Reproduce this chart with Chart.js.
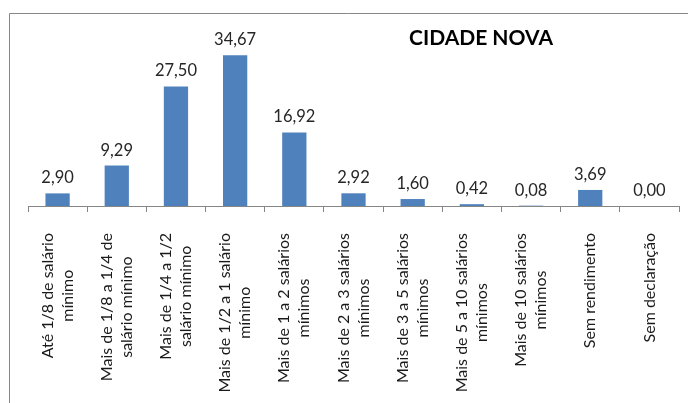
<!DOCTYPE html>
<html>
<head>
<meta charset="utf-8">
<script src="https://cdn.jsdelivr.net/npm/chart.js@4.4.0/dist/chart.umd.min.js"></script>
<style>
  html, body { margin: 0; padding: 0; background: #fff; }
  #wrap { width: 688px; height: 403px; }
</style>
</head>
<body>
<div id="wrap"><canvas id="rendaChart" width="688" height="403"></canvas></div>
<script>
// Data
const chartTitle = 'CIDADE NOVA';
const categories = [
    ['Até 1/8 de salário', 'mínimo'],
    ['Mais de 1/8 a 1/4 de', 'salário mínimo'],
    ['Mais de 1/4 a 1/2', 'salário mínimo'],
    ['Mais de 1/2 a 1 salário', 'mínimo'],
    ['Mais de 1 a 2 salários', 'mínimos'],
    ['Mais de 2 a 3 salários', 'mínimos'],
    ['Mais de 3 a 5 salários', 'mínimos'],
    ['Mais de 5 a 10 salários', 'mínimos'],
    ['Mais de 10 salários', 'mínimos'],
    ['Sem rendimento'],
    ['Sem declaração']
];
const values = [2.90, 9.29, 27.50, 34.67, 16.92, 2.92, 1.60, 0.42, 0.08, 3.69, 0.00];

const fontFamily = 'Lato, "Liberation Sans", sans-serif';

// Draws outer frame, title, value labels and the rotated category labels
const excelLook = {
    id: 'excelLook',
    beforeDraw(chart) {
        const ctx = chart.ctx;
        ctx.save();
        ctx.strokeStyle = '#868686';
        ctx.lineWidth = 1;
        ctx.beginPath();
        ctx.moveTo(9.5, chart.height);
        ctx.lineTo(9.5, 13.5);
        ctx.lineTo(chart.width, 13.5);
        ctx.stroke();
        ctx.restore();
    },
    afterDraw(chart) {
        const ctx = chart.ctx;
        const xScale = chart.scales.x;
        const meta = chart.getDatasetMeta(0);
        ctx.save();

        // title
        ctx.fillStyle = '#000';
        ctx.font = 'bold 21px ' + fontFamily;
        ctx.textAlign = 'center';
        ctx.textBaseline = 'middle';
        ctx.fillText(chartTitle, 481, 38);

        // value labels above bars
        ctx.fillStyle = '#262626';
        ctx.font = '16.5px ' + fontFamily;
        ctx.textBaseline = 'bottom';
        meta.data.forEach((bar, i) => {
            ctx.fillText(values[i].toFixed(2).replace('.', ','), bar.x, bar.y - 7);
        });

        // category labels, rotated, lines centred on each other
        ctx.font = '16px ' + fontFamily;
        ctx.fillStyle = '#1a1a1a';
        ctx.textBaseline = 'middle';
        ctx.textAlign = 'center';
        const top = xScale.bottom + 21;
        const lineH = 20;
        categories.forEach((lines, i) => {
            const x = xScale.getPixelForTick(i);
            const maxW = Math.max(...lines.map(l => ctx.measureText(l).width));
            ctx.save();
            ctx.translate(x, top);
            ctx.rotate(-Math.PI / 2);
            lines.forEach((line, j) => {
                ctx.fillText(line, -maxW / 2, (j - (lines.length - 1) / 2) * lineH);
            });
            ctx.restore();
        });
        ctx.restore();
    }
};

new Chart(document.getElementById('rendaChart'), {
    type: 'bar',
    data: {
        labels: categories.map(c => c.join(' ')),
        datasets: [{
            data: values,
            backgroundColor: '#4F81BD',
            borderWidth: 0,
            categoryPercentage: 1,
            barPercentage: 0.41
        }]
    },
    options: {
        responsive: false,
        animation: false,
        layout: { padding: { left: 28, right: 9, top: 32, bottom: 191 } },
        plugins: {
            legend: { display: false },
            tooltip: { enabled: false }
        },
        scales: {
            x: {
                ticks: { display: false },
                grid: {
                    drawOnChartArea: false,
                    drawTicks: true,
                    tickLength: 6,
                    color: '#868686'
                },
                border: { display: true, color: '#868686' }
            },
            y: {
                display: false,
                min: 0,
                max: 40
            }
        }
    },
    plugins: [excelLook]
});
</script>
</body>
</html>
